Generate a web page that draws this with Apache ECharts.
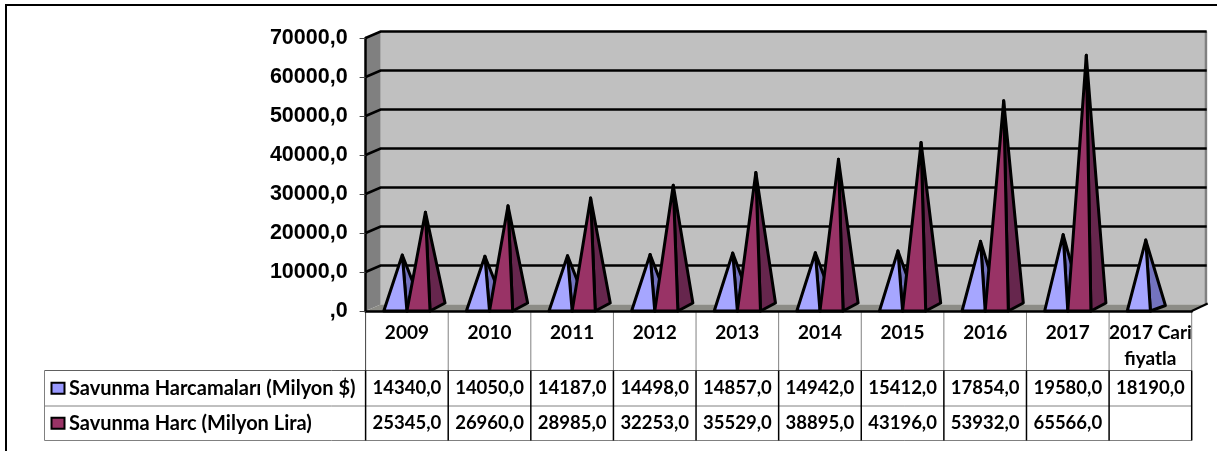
<!DOCTYPE html>
<html>
<head>
    <meta charset="utf-8">
    <title>Savunma Harcamaları</title>
    <script src="https://cdn.jsdelivr.net/npm/echarts@6/dist/echarts.min.js"></script>
    <style>
        html, body { margin: 0; padding: 0; background: #fff; }
        #chart { width: 1217px; height: 451px; }
    </style>
</head>
<body>
<div id="chart"></div>
<script>
    var categories = ['2009', '2010', '2011', '2012', '2013', '2014', '2015', '2016', '2017', '2017 Cari\nfiyatla'];
    var dolarValues = [14340, 14050, 14187, 14498, 14857, 14942, 15412, 17854, 19580, 18190];
    var liraValues = [25345, 26960, 28985, 32253, 35529, 38895, 43196, 53932, 65566, null];
    var seriesNames = ['Savunma Harcamaları (Milyon $)', 'Savunma Harc (Milyon Lira)'];
    var yTicks = [10000, 20000, 30000, 40000, 50000, 60000, 70000];

    var TABLE_FONT = 'Lato, "Noto Sans", sans-serif';
    var DEPTH_X = 15, DEPTH_Y = 6.5;
    var ROW_TOP = 370.5, ROW_MID = 406, ROW_BOTTOM = 440.5, TABLE_LEFT = 44.5;

    function fmt(v) {
        return v === null ? '' : (v === 0 ? ',0' : v + ',0');
    }

    function poly(points, fill, z2) {
        return {
            type: 'polygon', z2: z2 || 0,
            shape: {points: points},
            style: {fill: fill, stroke: '#000', lineWidth: 3, lineJoin: 'round'}
        };
    }

    function line(x1, y1, x2, y2, color, width) {
        return {
            type: 'line',
            shape: {x1: x1, y1: y1, x2: x2, y2: y2},
            style: {stroke: color, lineWidth: width}
        };
    }

    // arka duvar, yan duvar, taban ve kirilmali izgara cizgileri
    function renderWalls(params, api) {
        var c = params.coordSys;
        var l = c.x, r = c.x + c.width, t = c.y, b = c.y + c.height;
        var kids = [
            {type: 'rect', shape: {x: l + DEPTH_X, y: t - DEPTH_Y, width: c.width, height: c.height}, style: {fill: '#c0c0c0'}},
            {type: 'polygon', shape: {points: [[l, t], [l + DEPTH_X, t - DEPTH_Y], [l + DEPTH_X, b - DEPTH_Y], [l, b]]}, style: {fill: '#808080'}},
            {type: 'polygon', shape: {points: [[l, b], [l + DEPTH_X, b - DEPTH_Y], [r + DEPTH_X, b - DEPTH_Y], [r, b]]}, style: {fill: '#8c8c86'}},
            {type: 'rect', shape: {x: r + DEPTH_X - 2, y: t - DEPTH_Y, width: 2.5, height: c.height}, style: {fill: '#808080'}},
            line(r, b, r + DEPTH_X + 1, b - DEPTH_Y - 1, '#000', 2)
        ];
        yTicks.forEach(function (v) {
            var y = api.coord([0, v])[1];
            kids.push({
                type: 'polyline',
                shape: {points: [[l, y], [l + DEPTH_X, y - DEPTH_Y], [r + DEPTH_X, y - DEPTH_Y]]},
                style: {fill: null, stroke: '#000', lineWidth: 2.5}
            });
        });
        return {type: 'group', children: kids};
    }

    function pyramid(offset, front, side, backDrop) {
        return function (params, api) {
            if (api.value(1) === null || isNaN(api.value(1))) return;
            var band = api.size([1, 0])[0];
            var base = api.coord([api.value(0), 0]);
            var top = api.coord([api.value(0), api.value(1)]);
            var w = band * 0.28;
            var x0 = base[0] + offset * w;
            var apex = [x0 + w * 0.8, top[1]];
            return {
                type: 'group',
                children: [
                    poly([[x0 + w, base[1]], apex, [x0 + w + DEPTH_X, base[1] - backDrop]], side),
                    poly([[x0, base[1]], apex, [x0 + w, base[1]]], front, 1)
                ]
            };
        };
    }

    // veri tablosu: her kategori icin bir sutun
    function renderTableColumn(params, api) {
        var i = api.value(0);
        var band = api.size([1, 0])[0];
        var cx = api.coord([i, 0])[0];
        var l = cx - band / 2, r = cx + band / 2;
        var axisY = params.coordSys.y + params.coordSys.height;
        var kids = [
            line(r, axisY + 1, r, ROW_TOP, '#808080', 1),
            line(r, ROW_TOP, r, ROW_BOTTOM, '#000', 1.5),
            {
                type: 'text',
                style: {x: cx, y: (ROW_TOP + ROW_MID) / 2, text: fmt(dolarValues[i]), align: 'center', verticalAlign: 'middle', fill: '#000', font: 'bold 18.5px ' + TABLE_FONT}
            },
            {
                type: 'text',
                style: {x: cx, y: (ROW_MID + ROW_BOTTOM) / 2, text: fmt(liraValues[i]), align: 'center', verticalAlign: 'middle', fill: '#000', font: 'bold 18.5px ' + TABLE_FONT}
            }
        ];
        if (i === 0) {
            kids.push(line(l, axisY + 1, l, ROW_TOP, '#404040', 1));
            kids.push(line(l, ROW_TOP, l, ROW_BOTTOM, '#000', 1.5));
        }
        return {type: 'group', children: kids};
    }

    var chart = echarts.init(document.getElementById('chart'), null, {renderer: 'canvas'});

    function legendCell(text, color, y) {
        return [
            {type: 'rect', shape: {x: 51.5, y: y - 5.5, width: 13, height: 11}, style: {fill: color, stroke: '#000', lineWidth: 2}},
            {type: 'text', style: {x: 69, y: y, text: text, verticalAlign: 'middle', fill: '#000', font: 'bold 20px ' + TABLE_FONT}}
        ];
    }

    var graphicEls = [
        {type: 'polyline', shape: {points: [[6, 451], [6, 5], [1217, 5]]}, style: {fill: null, stroke: '#000', lineWidth: 2}},
        line(TABLE_LEFT, ROW_TOP, 1191.7, ROW_TOP, '#606060', 1),
        line(TABLE_LEFT, ROW_MID, 1191.7, ROW_MID, '#808080', 1),
        line(TABLE_LEFT, ROW_BOTTOM, 1191.7, ROW_BOTTOM, '#808080', 1),
        line(TABLE_LEFT, ROW_TOP, TABLE_LEFT, ROW_BOTTOM, '#808080', 1)
    ].concat(
        legendCell(seriesNames[0], '#9999ff', (ROW_TOP + ROW_MID) / 2),
        legendCell(seriesNames[1], '#993366', (ROW_MID + ROW_BOTTOM) / 2)
    );

    var xData = categories.map(function (c, i) { return i; });

    chart.setOption({
        animation: false,
        graphic: {elements: graphicEls},
        grid: {left: 365.6, right: 25.3, top: 38, height: 273, containLabel: false},
        xAxis: {
            type: 'category',
            data: categories,
            axisTick: {show: false},
            axisLine: {lineStyle: {color: '#000', width: 2.5}},
            axisLabel: {
                interval: 0, margin: 9, lineHeight: 26, verticalAlign: 'top',
                color: '#000', fontFamily: TABLE_FONT, fontWeight: 'bold', fontSize: 19
            },
            z: 5
        },
        yAxis: {
            type: 'value',
            min: 0, max: 70000, interval: 10000,
            splitLine: {show: false},
            axisLine: {show: true, lineStyle: {color: '#000', width: 2.5}},
            axisTick: {show: true, length: 6, lineStyle: {color: '#444', width: 1}},
            axisLabel: {
                margin: 18, formatter: fmt, color: '#000',
                fontFamily: '"Liberation Sans", Arial, sans-serif', fontWeight: 'bold', fontSize: 21.5
            },
            z: 5
        },
        series: [
            {type: 'custom', name: 'duvar', silent: true, z: 1, clip: false, data: [[0, 0]], renderItem: renderWalls},
            {
                type: 'custom', name: seriesNames[0], silent: true, z: 2, clip: false,
                data: dolarValues.map(function (v, i) { return [i, v]; }),
                renderItem: pyramid(-1, '#a6a6ff', '#7373bf', 5.5)
            },
            {
                type: 'custom', name: seriesNames[1], silent: true, z: 3, clip: false,
                data: liraValues.map(function (v, i) { return [i, v]; }),
                renderItem: pyramid(0, '#993366', '#66264d', 8)
            },
            {
                type: 'custom', name: 'tablo', silent: true, z: 4, clip: false,
                data: xData.map(function (i) { return [i, 0]; }),
                renderItem: renderTableColumn
            }
        ]
    });
</script>
</body>
</html>
